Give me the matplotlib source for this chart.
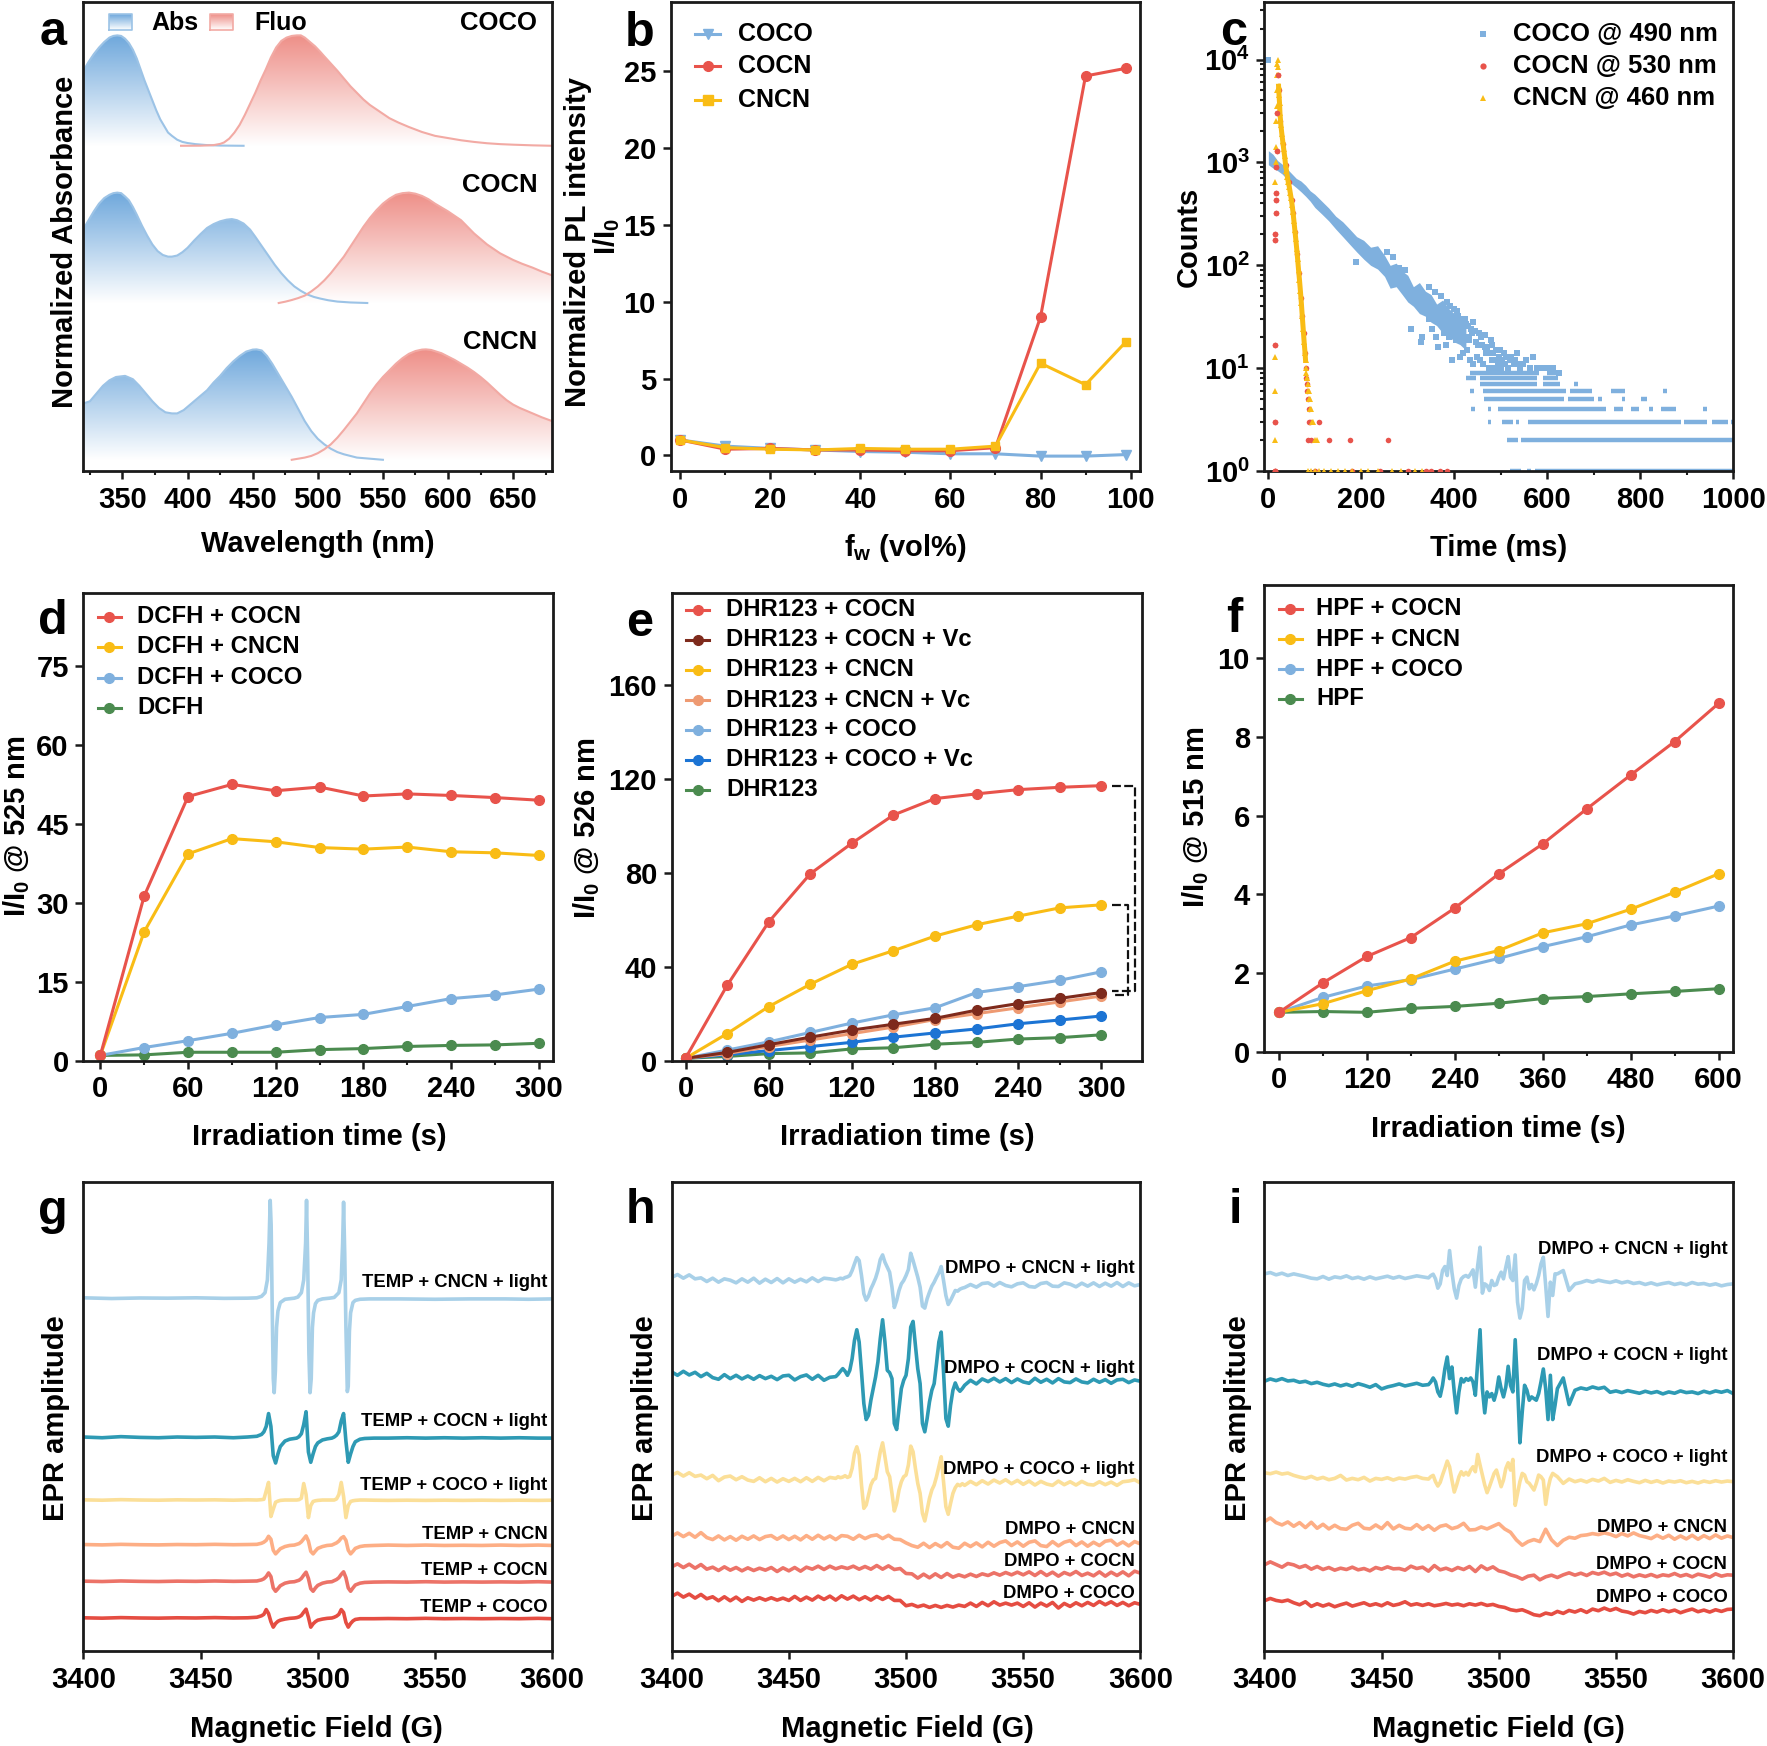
import numpy as np
import matplotlib
matplotlib.use('Agg')
import matplotlib.pyplot as plt
from matplotlib.colors import LinearSegmentedColormap
from matplotlib.patches import Polygon
from matplotlib.ticker import MultipleLocator, FixedLocator, FixedFormatter, NullFormatter, LogLocator

plt.rcParams['font.family'] = ['Liberation Sans', 'DejaVu Sans']
plt.rcParams['font.weight'] = 'bold'
plt.rcParams['axes.labelweight'] = 'bold'
plt.rcParams['mathtext.fontset'] = 'custom'
plt.rcParams['mathtext.rm'] = 'Liberation Sans:bold'
plt.rcParams['mathtext.bf'] = 'Liberation Sans:bold'
plt.rcParams['mathtext.default'] = 'rm'

# colours
c_red = '#E8534B'
c_yellow = '#F9BC15'
c_blue = '#7FB0DE'
c_green = '#4B8B4F'
c_brown = '#7E2A1C'
c_salmon = '#EE9A72'
c_dblue = '#1C74D4'
c_epr = ['#A8D0E8', '#2E9AB4', '#FBDF98', '#FDAE85', '#EC7368', '#E54D42']

# panel a, values are height over each baseline
abs_coco_x = [320, 324, 328, 332, 336, 340, 343, 346, 349, 352, 355, 358, 361, 364, 367, 370, 373, 376, 379, 382, 385, 388, 392, 396, 400, 406, 414, 425, 443]
abs_coco_y = [0.68, 0.76, 0.83, 0.89, 0.94, 0.98, 0.995, 1.0, 0.995, 0.97, 0.93, 0.87, 0.79, 0.69, 0.59, 0.5, 0.41, 0.32, 0.24, 0.18, 0.12, 0.09, 0.055, 0.035, 0.025, 0.015, 0.007, 0.002, 0.0]
flu_coco_x = [395, 410, 420, 425, 428, 432, 436, 440, 444, 448, 452, 456, 460, 464, 468, 472, 476, 480, 484, 487, 490, 494, 498, 502, 505, 510, 515, 520, 525, 530, 535, 540, 545, 550, 555, 562, 570, 580, 590, 600, 610, 620, 630, 640, 650, 665, 680]
flu_coco_y = [0.0, 0.001, 0.006, 0.017, 0.03, 0.065, 0.12, 0.19, 0.28, 0.38, 0.48, 0.59, 0.69, 0.8, 0.89, 0.95, 0.98, 0.995, 1.0, 1.0, 0.98, 0.94, 0.9, 0.85, 0.81, 0.745, 0.68, 0.61, 0.54, 0.48, 0.42, 0.37, 0.33, 0.29, 0.25, 0.21, 0.17, 0.125, 0.09, 0.07, 0.05, 0.035, 0.023, 0.015, 0.01, 0.004, 0.0]
abs_cocn_x = [320, 324, 328, 332, 336, 340, 343, 346, 349, 352, 355, 358, 361, 365, 369, 373, 377, 381, 385, 388, 392, 396, 400, 405, 410, 415, 420, 425, 430, 434, 438, 443, 448, 452, 457, 462, 467, 472, 477, 482, 487, 492, 497, 502, 508, 515, 525, 538]
abs_cocn_y = [0.67, 0.75, 0.83, 0.9, 0.95, 0.98, 0.995, 1.0, 0.995, 0.965, 0.93, 0.87, 0.8, 0.7, 0.61, 0.53, 0.47, 0.435, 0.42, 0.42, 0.43, 0.46, 0.5, 0.565, 0.625, 0.68, 0.715, 0.74, 0.755, 0.76, 0.75, 0.72, 0.665, 0.6, 0.515, 0.43, 0.345, 0.27, 0.205, 0.15, 0.11, 0.077, 0.055, 0.04, 0.025, 0.013, 0.005, 0.0]
flu_cocn_x = [470, 475, 480, 485, 490, 495, 500, 505, 510, 515, 520, 525, 530, 535, 540, 545, 550, 555, 560, 565, 570, 575, 580, 585, 590, 595, 600, 605, 610, 615, 620, 625, 630, 635, 640, 645, 650, 657, 665, 672, 680]
flu_cocn_y = [0.0, 0.012, 0.027, 0.045, 0.067, 0.105, 0.15, 0.205, 0.27, 0.345, 0.42, 0.51, 0.6, 0.69, 0.77, 0.84, 0.9, 0.945, 0.98, 0.995, 1.0, 0.99, 0.97, 0.94, 0.9, 0.865, 0.83, 0.79, 0.75, 0.69, 0.63, 0.58, 0.53, 0.49, 0.45, 0.42, 0.39, 0.355, 0.32, 0.285, 0.25]
abs_cncn_x = [320, 325, 330, 335, 340, 345, 352, 358, 363, 368, 373, 378, 383, 388, 392, 397, 402, 407, 412, 415, 420, 425, 430, 435, 440, 445, 450, 453, 457, 461, 465, 470, 475, 480, 485, 490, 495, 500, 505, 510, 515, 520, 530, 540, 550]
abs_cncn_y = [0.51, 0.53, 0.6, 0.67, 0.72, 0.75, 0.76, 0.73, 0.67, 0.6, 0.53, 0.47, 0.43, 0.42, 0.42, 0.45, 0.5, 0.55, 0.6, 0.63, 0.7, 0.76, 0.83, 0.89, 0.94, 0.98, 0.998, 1.0, 0.99, 0.94, 0.87, 0.77, 0.67, 0.57, 0.46, 0.35, 0.26, 0.19, 0.14, 0.1, 0.07, 0.05, 0.02, 0.01, 0.0]
flu_cncn_x = [480, 485, 490, 495, 500, 505, 510, 515, 520, 525, 530, 535, 540, 545, 550, 555, 560, 565, 570, 575, 580, 583, 587, 591, 595, 600, 605, 610, 615, 620, 625, 630, 635, 640, 645, 650, 655, 660, 665, 672, 680]
flu_cncn_y = [0.0, 0.01, 0.02, 0.035, 0.06, 0.095, 0.14, 0.2, 0.27, 0.345, 0.42, 0.51, 0.6, 0.68, 0.75, 0.81, 0.87, 0.92, 0.96, 0.985, 0.998, 1.0, 0.995, 0.98, 0.965, 0.935, 0.905, 0.87, 0.835, 0.795, 0.75, 0.7, 0.645, 0.59, 0.54, 0.5, 0.47, 0.445, 0.42, 0.385, 0.35]
a_base = [2.947, 1.523, 0.103]

# panel b
fw = [0, 10, 20, 30, 40, 50, 60, 70, 80, 90, 99]
b_coco = [1, 0.6, 0.45, 0.35, 0.25, 0.2, 0.1, 0.1, -0.05, -0.05, 0.05]
b_cocn = [1, 0.4, 0.45, 0.35, 0.35, 0.3, 0.3, 0.5, 9, 24.7, 25.2]
b_cncn = [1, 0.5, 0.4, 0.35, 0.45, 0.4, 0.4, 0.6, 6, 4.6, 7.4]

# panel c
coco_band_t = [0, 10, 20, 30, 40, 50, 60, 70, 80, 90, 100, 115, 130, 145, 160, 175, 190, 205, 220, 235, 250, 262, 275, 288, 300, 312, 325, 338, 350, 362, 375, 388, 400, 412, 425]
coco_band_up = [1300, 1200, 1040, 960, 870, 780, 700, 660, 600, 530, 490, 420, 360, 300, 265, 225, 190, 175, 150, 155, 125, 100, 105, 88, 80, 62, 68, 56, 52, 42, 46, 38, 34, 33, 28]
coco_band_lo = [950, 880, 830, 770, 690, 620, 570, 520, 470, 420, 365, 315, 270, 225, 190, 160, 135, 115, 100, 92, 78, 60, 62, 52, 44, 40, 34, 32, 28, 26, 22, 21, 18, 17, 15]
coco_t = [0, 189, 255, 268, 281, 295, 307, 328, 330, 345, 352, 358, 362, 366, 371, 378, 384, 388, 391, 396, 397, 403, 406, 409, 415, 418, 421, 425, 428, 431, 434, 438, 440,
          430, 436, 441, 446, 449, 453, 456, 459, 462, 465, 468, 471, 475, 478, 481, 484, 487, 490, 493, 496, 500, 503, 507, 509, 515, 522, 528, 535, 541, 548, 555, 562, 570, 578, 590, 600, 612, 625,
          400, 408, 416, 424, 432, 444, 450, 458, 466, 474, 482, 492, 498, 505, 512, 520, 530, 540, 345, 360, 372, 382, 395, 412]
coco_c = [10000, 107, 135, 120, 95, 90, 24, 18, 20, 62, 24, 55, 30, 16, 50, 22, 44, 20, 40, 12, 24, 19, 36, 22, 25, 14, 30, 27, 15, 20, 12, 22, 11,
          26, 24, 28, 18, 13, 22, 12, 17, 11, 21, 14, 16, 10, 19, 12, 14, 10, 15, 11, 13, 10, 12, 14, 11, 10, 13, 11, 14, 10, 11, 12, 10, 13, 10, 10, 10, 10, 9,
          38, 32, 24, 30, 19, 23, 17, 20, 16, 14, 17, 12, 15, 11, 13, 12, 12, 11, 30, 20, 28, 17, 22, 13]
coco_levels = [9, 8, 7, 6, 5, 4, 3, 2, 1]
coco_runs = [
    [(434, 582), (600, 628)],
    [(425, 447), (455, 578), (590, 624)],
    [(455, 578), (590, 628), (658, 666)],
    [(434, 442), (462, 641), (648, 696), (738, 768), (849, 857)],
    [(464, 637), (645, 700), (709, 717), (760, 768), (802, 815)],
    [(436, 444), (472, 480), (493, 726), (743, 764), (781, 798), (819, 827), (844, 878), (936, 944)],
    [(472, 480), (502, 527), (532, 540), (558, 887), (895, 944), (955, 988), (996, 1000)],
    [(513, 538), (544, 1000)],
    [(519, 544), (557, 565), (574, 1000)],
]
cocn_t = [15, 15, 15, 15, 15, 16, 16, 17, 17, 18, 19, 20, 22, 26, 32, 38, 44, 50, 54, 58, 62, 66, 70, 73, 76, 78, 80, 82, 84, 84, 86, 88, 90, 88, 108, 86, 92, 130, 175, 258, 15, 100, 180, 240, 300, 340, 350, 370, 385]
cocn_c = [1, 3, 17, 175, 200, 320, 430, 510, 900, 1300, 3000, 7000, 5000, 2500, 1500, 950, 650, 430, 320, 210, 130, 85, 48, 32, 22, 14, 10, 8, 7, 6, 5, 4, 3, 3, 3, 2, 2, 2, 2, 2, 1, 1, 1, 1, 1, 1, 1, 1, 1]
cncn_t = [14, 14, 15, 15, 16, 16, 17, 18, 18, 19, 19, 20, 20, 21, 22, 23, 24, 25, 27, 29, 31, 33, 35, 37, 39, 41, 43, 45, 47, 49, 51, 53, 55, 57, 59, 61, 63, 65, 67, 69, 71, 73, 75, 77, 79, 80, 81, 82, 83, 84, 85, 86, 87, 88, 89, 90, 92, 94, 97, 100, 105,
          85, 92, 100, 110, 120, 135, 150, 165, 180, 200, 215, 235, 265, 285, 315, 330]
cncn_c = [2, 6, 13, 650, 1000, 1400, 2500, 3500, 5000, 7000, 9000, 10000, 8500, 7000, 5500, 4500, 3800, 3000, 2300, 1900, 1600, 1350, 1150, 950, 830, 720, 640, 580, 510, 450, 390, 330, 270, 220, 180, 145, 115, 90, 72, 56, 43, 32, 24, 18, 14, 12, 10, 9, 8, 8, 7, 6, 6, 5, 5, 4, 4, 3, 3, 2, 2,
          1, 1, 1, 1, 1, 1, 1, 1, 1, 1, 1, 1, 1, 1, 1, 1]

# panel d
t_300 = [0, 30, 60, 90, 120, 150, 180, 210, 240, 270, 300]
d_cocn = [1, 31.3, 50.2, 52.5, 51.3, 52, 50.3, 50.7, 50.4, 50, 49.5]
d_cncn = [1, 24.5, 39.3, 42.2, 41.6, 40.5, 40.2, 40.6, 39.7, 39.5, 39]
d_coco = [1, 2.5, 3.8, 5.2, 6.8, 8.2, 8.8, 10.3, 11.8, 12.5, 13.6]
d_dcfh = [1, 1.1, 1.6, 1.6, 1.6, 2.1, 2.3, 2.7, 2.9, 3, 3.3]

# panel e
e_cocn = [1, 32, 59, 79.5, 92.5, 104.5, 111.5, 113.5, 115.3, 116.3, 117]
e_cocn_vc = [1, 3.5, 6.8, 10, 13, 15.5, 18, 21.5, 24.3, 26.5, 29]
e_cncn = [1, 11.5, 23, 32.5, 41, 46.8, 53, 57.8, 61.5, 65, 66.3]
e_cncn_vc = [1, 3, 6, 8.8, 11.5, 14.3, 17.5, 20, 22.5, 25, 27.5]
e_coco = [1, 4.5, 8, 12, 16, 19.5, 22.5, 29, 31.5, 34.2, 37.8]
e_coco_vc = [1, 2.5, 4.3, 6, 7.8, 10, 11.8, 13.5, 15.7, 17.3, 19]
e_dhr = [1, 1.8, 3, 3.3, 5, 5.5, 7, 7.8, 9.2, 9.8, 11]

# panel f
t_600 = [0, 60, 120, 180, 240, 300, 360, 420, 480, 540, 600]
f_cocn = [1, 1.75, 2.42, 2.9, 3.65, 4.52, 5.28, 6.17, 7.03, 7.88, 8.85]
f_cncn = [1, 1.22, 1.55, 1.85, 2.3, 2.57, 3.02, 3.25, 3.62, 4.05, 4.52]
f_coco = [1, 1.38, 1.67, 1.83, 2.1, 2.37, 2.67, 2.92, 3.22, 3.45, 3.7]
f_hpf = [1, 1.02, 1, 1.1, 1.15, 1.23, 1.35, 1.4, 1.47, 1.53, 1.6]

# panel g, deviations from each baseline
g_base = [96.4, 58.4, 41.3, 29.1, 19.1, 9.1]
g_names = ['TEMP + CNCN + light', 'TEMP + COCN + light', 'TEMP + COCO + light', 'TEMP + CNCN', 'TEMP + COCN', 'TEMP + COCO']
g_label_y = [100.6, 62.6, 45.2, 31.8, 22.1, 12.0]
g_first_x = [3400, 3412, 3424, 3436, 3448, 3460, 3470, 3474, 3476, 3477.5, 3478.5, 3479.2, 3479.7, 3480.1, 3480.5, 3481, 3481.4, 3481.9, 3482.4, 3483, 3484, 3486, 3490,
             3491.5, 3493, 3494, 3494.8, 3495.2, 3495.7, 3496.2, 3496.7, 3497.2, 3497.7, 3498.2, 3499, 3500, 3502, 3505,
             3507, 3509, 3510, 3510.6, 3511, 3511.5, 3512, 3512.6, 3513, 3513.5, 3514, 3515, 3516, 3518, 3522, 3535, 3550, 3565, 3580, 3590, 3600]
g_first_y = [0.1, -0.1, 0.05, 0, 0.1, -0.05, 0, 0.1, 0.5, 1.5, 5, 15, 26.7, 20, 0, -22, -25.8, -20, -8, -3.5, -1.2, -0.3, 0,
             0.3, 1.5, 5, 15, 26.7, 10, -15, -25.8, -22, -8, -4, -1.5, -0.6, -0.2, 0,
             0.2, 1.5, 5, 15, 26.2, 12, -8, -25.5, -24, -9, -4, -1.2, -0.6, -0.3, -0.2, -0.2, -0.3, -0.2, -0.2, -0.3, -0.2]
g_x = [3400, 3408, 3416, 3424, 3432, 3440, 3448, 3456, 3464, 3470,
       3474, 3476, 3477, 3478, 3479, 3480, 3481, 3482, 3483, 3484, 3486, 3488,
       3490, 3491, 3492, 3493, 3494, 3495, 3496, 3497, 3498, 3499, 3500, 3502, 3504,
       3506, 3507, 3508, 3509, 3510, 3511, 3512, 3513, 3514, 3515, 3516, 3518, 3520,
       3524, 3530, 3538, 3546, 3554, 3562, 3570, 3578, 3586, 3594, 3600]
g_cocn_y = [0.1, -0.1, 0.2, 0, -0.1, 0.1, 0, 0.1, -0.1, 0.1,
            0.3, 0.8, 1.5, 3, 6.5, 3, -5, -7, -4.5, -2.5, -1, -0.5,
            -0.3, -0.2, 0.2, 1, 3.5, 7, -4, -6.8, -4.5, -2.5, -1.5, -0.7, -0.4,
            -0.2, 0.1, 0.6, 1.5, 4.5, 6.5, -1, -6.8, -4.5, -2.5, -1.2, -0.5, -0.3,
            -0.2, -0.2, -0.1, -0.2, -0.1, -0.2, -0.1, -0.2, -0.1, -0.2, -0.2]
g_coco_y = [0.05, -0.05, 0.1, 0, -0.05, 0.05, 0, 0.05, -0.05, 0.05,
            0, 0.1, 0.2, 2.5, 4.8, -4.5, -2.5, -0.6, -0.3, -0.1, 0, 0,
            0, 0, 0.1, 0.5, 4.5, 1.5, -4.8, -1.5, -0.4, -0.2, -0.1, 0, 0,
            0, 0, 0.3, 1.5, 4.8, 1, -4.8, -1.5, -0.4, -0.2, -0.1, 0, 0,
            -0.05, -0.1, -0.05, -0.1, -0.05, -0.1, -0.05, -0.1, -0.05, -0.1, -0.05]
g_cncn_y = [0.05, -0.05, 0.1, 0, -0.05, 0.05, 0, 0.1, 0, 0.05,
            0.1, 0.4, 0.7, 1.2, 2.3, 1.5, -1.5, -2.5, -1.8, -1.1, -0.5, -0.2,
            -0.1, 0.1, 0.3, 0.8, 1.6, 2.4, 1, -1.8, -2.5, -1.7, -1, -0.5, -0.2,
            -0.1, 0.2, 0.5, 1, 1.8, 2.2, 1.2, -1.5, -2.5, -1.8, -1, -0.5, -0.3,
            -0.2, -0.1, -0.2, -0.1, -0.2, -0.15, -0.2, -0.1, -0.2, -0.1, -0.2]
g_cocn2_y = [0.05, -0.05, 0.1, 0, -0.05, 0.05, 0, 0.1, 0, 0.05,
             0.1, 0.4, 0.7, 1.3, 2.3, 1.3, -1.8, -2.7, -2, -1.2, -0.5, -0.2,
             -0.1, 0.1, 0.3, 0.8, 1.7, 2.5, 0.8, -2, -2.7, -1.8, -1.1, -0.5, -0.2,
             -0.1, 0.2, 0.5, 1, 1.9, 2.6, 1, -1.8, -2.7, -1.8, -1, -0.5, -0.3,
             -0.2, -0.15, -0.2, -0.1, -0.2, -0.15, -0.2, -0.15, -0.2, -0.1, -0.2]
g_coco2_y = [0.05, -0.05, 0.1, 0, -0.05, 0.05, 0, 0.1, 0, 0.05,
             0.2, 0.6, 1, 2.3, 1.2, -1, -2.5, -1.5, -0.9, -0.6, -0.3, -0.1,
             0, 0.1, 0.3, 0.7, 1.6, 2.4, 0.2, -2.5, -1.6, -1, -0.6, -0.3, -0.1,
             0, 0.2, 0.5, 1, 2.3, 1.5, -1.2, -2.5, -1.5, -0.8, -0.4, -0.2, -0.2,
             -0.2, -0.15, -0.2, -0.1, -0.2, -0.15, -0.2, -0.15, -0.2, -0.1, -0.2]

# panel h, light traces: 3400-3467.5 every 2.5 G, 3470-3524 every 1 G, 3525-3600 every 2.5 G
h_names = ['DMPO + CNCN + light', 'DMPO + COCN + light', 'DMPO + COCO + light', 'DMPO + CNCN', 'DMPO + COCN', 'DMPO + COCO']
h_label_y = [115.1, 84.9, 54.7, 36.7, 26.9, 17.4]
h_a_left = [112.4, 113.3, 112.2, 113.2, 112.0, 112.3, 111.2, 112.2, 111.0, 112.0, 111.6, 110.8, 112.0, 111.0, 112.2, 110.7, 111.9, 110.9, 112.1, 110.8, 112.0, 111.0, 111.9, 111.1, 112.3, 111.2, 112.2, 112.0]
h_a_mid = [111.7, 111.9, 112.2, 112.0, 112.4,
           112.6, 113.0, 114.5, 116.5, 118.4,
           117.5, 113.0, 107.5, 105.6, 106.8,
           109.0, 110.5, 112.2, 114.5, 117.8,
           119.2, 117.0, 115.5, 114.0, 109.5,
           103.4, 105.5, 108.5, 110.5, 111.5,
           113.0, 114.8, 119.7, 117.5, 115.0,
           112.5, 109.5, 103.8, 103.2, 106.0,
           108.0, 109.8, 111.0, 112.5, 113.8,
           115.7, 111.5, 107.0, 104.3, 105.5,
           107.0, 108.5, 108.3, 108.9, 109.2]
h_a_right = [109.4, 110.3, 109.5, 110.6, 110.8, 109.8, 110.9, 110.0, 109.6, 110.5, 110.8, 109.7, 109.5, 110.6, 110.9, 109.8, 109.7, 110.8, 110.4, 109.6, 110.7, 109.8, 110.8, 109.7, 110.7, 109.8, 110.9, 109.7, 110.8, 109.9, 110.3]
h_b_left = [84.0, 83.0, 84.2, 83.1, 83.9, 82.6, 83.6, 82.3, 81.8, 83.2, 82.0, 83.0, 81.9, 82.8, 81.8, 82.9, 82.0, 82.7, 81.7, 82.8, 83.0, 81.6, 82.6, 83.1, 81.8, 83.0, 81.5, 82.4]
h_b_mid = [82.6, 83.3, 84.2, 85.0, 84.2,
           83.0, 84.5, 88.0, 93.5, 96.7,
           93.0, 84.0, 74.5, 69.7, 71.0,
           75.5, 79.0, 82.5, 87.0, 94.0,
           99.7, 93.0, 84.5, 83.8, 82.0,
           68.5, 66.7, 73.0, 79.0, 81.5,
           83.0, 88.0, 97.5, 99.2, 92.0,
           85.0, 80.5, 68.5, 66.0, 70.0,
           75.0, 78.5, 80.5, 86.5, 93.0,
           96.0, 84.0, 70.0, 67.7, 74.0,
           78.5, 80.7, 79.0, 78.2, 79.0]
h_b_right = [80.0, 81.5, 80.4, 81.9, 81.1, 82.1, 81.0, 82.0, 80.8, 81.9, 81.0, 80.6, 82.1, 80.9, 81.8, 80.7, 82.0, 81.0, 80.8, 81.9, 81.0, 80.7, 81.8, 80.9, 81.7, 80.6, 81.6, 81.8, 80.8, 81.6, 81.2]
h_c_left = [53.0, 53.8, 52.7, 53.7, 52.6, 53.0, 51.9, 52.9, 51.3, 52.4, 52.7, 51.6, 52.5, 51.5, 51.1, 52.2, 51.0, 52.0, 50.9, 51.9, 51.1, 52.0, 51.0, 52.2, 51.1, 52.3, 51.3, 52.3]
h_c_mid = [52.0, 52.5, 52.2, 52.4, 52.8,
           52.3, 52.6, 55.0, 59.5, 61.5,
           59.0, 50.0, 43.0, 44.0, 47.0,
           50.0, 51.5, 52.0, 56.0, 60.0,
           62.7, 58.5, 54.0, 52.5, 47.5,
           42.2, 44.5, 48.5, 51.0, 52.5,
           53.0, 56.0, 61.7, 60.0, 55.0,
           50.5, 47.5, 41.5, 39.2, 42.5,
           46.0, 48.5, 50.0, 52.5, 55.5,
           58.5, 51.0, 43.5, 41.2, 44.5,
           47.5, 49.2, 50.2, 49.8, 50.4]
h_c_right = [49.9, 51.1, 50.1, 51.3, 50.3, 51.5, 50.6, 51.6, 50.4, 51.4, 50.2, 51.2, 50.0, 51.1, 50.3, 49.9, 51.2, 50.1, 51.0, 50.0, 51.1, 50.2, 50.0, 51.0, 50.1, 50.9, 49.9, 51.0, 51.2, 51.6, 50.6]
h_d = [34.6, 35.6, 34.5, 35.5, 34.3, 35.7, 34.2, 33.6, 34.7, 33.5, 34.5, 33.4, 34.6, 33.7, 34.7, 33.6, 34.5, 34.8, 33.7, 34.7, 33.6, 34.6, 33.5, 34.8, 33.7, 34.9, 33.8, 34.7, 33.6, 34.8,
       34.6, 33.7, 34.9, 33.9, 34.7, 35.0, 33.9, 34.9, 33.7, 33.6, 32.6, 31.8, 31.3, 32.5, 31.2, 32.4, 31.4, 32.7, 31.3, 31.0, 32.5, 31.5, 32.6, 31.4, 32.8, 31.6, 32.7, 33.2, 31.8, 32.9,
       31.6, 32.8, 33.2, 31.8, 31.5, 33.0, 31.7, 32.8, 33.3, 31.8, 32.9, 31.6, 32.8, 31.8, 33.1, 33.4, 31.9, 32.9, 31.7, 33.0, 32.3]
h_e = [25.4, 26.3, 25.2, 26.2, 25.0, 26.1, 24.7, 25.3, 24.3, 25.4, 24.4, 25.2, 24.2, 25.1, 24.3, 25.0, 24.4, 25.2, 24.0, 25.1, 24.2, 25.2, 24.1, 25.3, 24.7, 25.6, 24.6, 25.6, 24.8, 25.4,
       24.9, 25.6, 24.7, 25.5, 24.7, 25.8, 24.7, 25.7, 24.6, 24.9, 23.4, 23.3, 22.0, 23.2, 22.1, 23.3, 22.2, 23.4, 22.3, 23.0, 22.4, 23.2, 22.5, 23.3, 22.8, 23.6, 22.9, 23.7, 23.0, 23.8,
       23.0, 23.9, 22.8, 24.0, 22.8, 23.8, 22.6, 23.7, 23.0, 24.0, 22.8, 23.5, 22.7, 23.9, 22.6, 23.8, 22.8, 23.9, 22.7, 24.1, 23.5]
h_f = [16.5, 17.5, 16.3, 17.2, 16.0, 17.1, 15.8, 16.4, 15.2, 16.4, 15.2, 16.3, 15.0, 16.1, 15.4, 16.1, 15.4, 16.1, 15.4, 16.0, 15.3, 16.5, 15.3, 16.3, 15.4, 16.6, 15.6, 16.6, 15.4, 16.7,
       15.7, 16.6, 15.5, 16.4, 15.4, 16.5, 15.6, 16.5, 15.3, 15.3, 13.7, 14.1, 13.4, 13.9, 13.2, 13.8, 13.2, 13.8, 13.3, 13.9, 13.5, 14.5, 13.5, 14.7, 13.7, 14.9, 13.9, 14.5, 13.9, 14.5,
       13.5, 14.6, 13.3, 14.5, 13.6, 14.7, 13.0, 14.4, 13.5, 14.6, 13.7, 14.7, 13.8, 15.0, 14.0, 14.9, 13.8, 14.7, 13.7, 14.6, 14.1]

# panel i
i_label_y = [120.9, 89.1, 58.2, 37.2, 26.1, 16.1]
i_a_left = [113.5, 113.9, 113.2, 113.7, 113.0, 113.5, 113.1, 112.7, 112.2, 112.0, 112.7, 111.9, 112.6, 112.3, 112.9, 112.1, 112.5, 111.9, 112.6, 112.0, 112.4, 112.8, 112.2, 112.7, 112.1, 112.5, 112.9, 112.6]
i_a_mid = [112.3, 113.0, 113.4, 112.0, 109.2,
           110.5, 114.5, 115.7, 113.0, 120.5,
           114.0, 109.0, 106.2, 110.0, 112.0,
           112.7, 113.0, 112.5, 113.5, 114.7,
           109.5, 116.0, 121.5, 107.7, 110.5,
           110.0, 108.5, 111.5, 110.0, 110.3,
           112.5, 114.0, 112.0, 115.5, 118.7,
           112.5, 111.5, 119.2, 105.0, 100.2,
           103.0, 111.5, 112.5, 109.0, 110.3,
           108.7, 110.5, 113.0, 116.5, 118.5,
           110.0, 100.7, 111.0, 107.0, 113.5]
i_a_right = [113.5, 114.5, 108.5, 110.5, 110.9, 111.5, 111.0, 111.6, 111.2, 110.9, 111.4, 110.8, 111.2, 110.6, 110.9, 110.3, 110.8, 110.2, 110.6, 110.9, 110.3, 110.7, 110.2, 110.9, 110.4, 110.6, 110.1, 110.5, 109.9, 110.3, 110.5]
i_b_left = [81.2, 81.9, 81.4, 82.0, 81.3, 81.5, 80.9, 81.2, 80.5, 80.9, 80.3, 79.9, 80.4, 79.8, 80.3, 79.7, 80.5, 80.0, 79.4, 80.2, 78.9, 79.5, 79.9, 80.4, 79.8, 80.2, 80.6, 80.0]
i_b_mid = [80.2, 81.0, 82.2, 81.0, 78.0,
           76.7, 80.0, 85.0, 88.5, 82.0,
           85.5, 78.0, 71.7, 78.0, 82.0,
           81.0, 82.0, 81.5, 82.2, 81.0,
           77.0, 87.0, 96.7, 79.0, 71.7,
           78.0, 76.5, 77.5, 75.5, 78.0,
           82.5, 79.0, 76.5, 79.5, 85.7,
           80.0, 78.0, 93.7, 80.0, 62.7,
           72.0, 80.0, 78.5, 75.5, 76.5,
           76.0, 75.5, 77.5, 81.0, 84.9,
           79.0, 69.7, 83.0, 69.7, 74.0]
i_b_right = [79.0, 82.2, 74.2, 78.5, 79.2, 78.8, 79.5, 79.0, 79.4, 77.9, 78.3, 77.8, 78.4, 78.0, 77.6, 78.2, 77.7, 78.1, 77.4, 78.0, 77.6, 78.3, 77.8, 78.0, 77.5, 78.2, 77.7, 78.3, 77.9, 78.4, 77.5]
i_c_left = [53.7, 53.4, 53.9, 53.3, 53.6, 52.9, 52.4, 52.0, 52.6, 51.8, 52.3, 51.6, 52.0, 52.9, 51.5, 52.0, 51.6, 52.3, 51.2, 52.0, 51.7, 52.2, 51.5, 52.1, 51.8, 52.3, 52.6, 52.0]
i_c_mid = [51.8, 52.5, 52.9, 51.0, 49.7,
           50.8, 53.0, 55.0, 57.2, 55.5,
           51.5, 47.9, 50.0, 52.5, 54.0,
           53.0, 53.8, 53.0, 54.5, 55.5,
           54.0, 59.2, 56.0, 53.0, 50.0,
           47.7, 49.5, 51.5, 53.5, 54.5,
           52.0, 49.5, 51.5, 55.0, 56.7,
           54.5, 57.7, 43.9, 47.5, 51.0,
           53.5, 53.0, 51.0, 50.5, 49.5,
           48.5, 50.5, 53.0, 52.5, 51.5,
           44.2, 49.0, 52.0, 53.5, 53.0]
i_c_right = [52.5, 50.5, 51.8, 51.0, 51.5, 50.9, 51.7, 51.2, 52.0, 50.8, 51.4, 50.9, 51.6, 51.1, 50.7, 51.4, 50.8, 51.3, 50.6, 51.2, 50.9, 51.3, 50.7, 51.1, 50.6, 51.2, 50.8, 51.3, 50.9, 51.2, 51.0]
i_d = [39.0, 40.1, 38.7, 38.0, 38.9, 37.6, 38.7, 37.2, 38.8, 37.0, 38.2, 36.8, 37.9, 36.9, 36.7, 37.9, 38.5, 37.0, 36.8, 38.0, 36.9, 38.7, 36.8, 37.9, 37.0, 36.8, 38.1, 36.7, 37.8, 36.4,
       37.6, 38.0, 36.9, 37.4, 38.5, 36.5, 36.6, 37.4, 36.8, 37.6, 38.4, 36.8, 35.8, 33.5, 31.9, 33.0, 33.6, 33.0, 36.7, 33.5, 31.8, 33.4, 34.3, 34.0, 34.8, 35.0, 35.4, 35.1, 35.6, 35.2,
       34.5, 35.4, 34.7, 35.6, 34.8, 34.4, 33.9, 34.9, 34.0, 34.9, 33.7, 34.7, 33.8, 34.9, 33.7, 34.8, 33.9, 35.0, 34.0, 34.7, 34.2]
i_e = [26.0, 26.9, 26.1, 25.3, 26.4, 26.0, 25.2, 25.8, 24.7, 25.5, 24.6, 25.2, 24.4, 25.0, 24.6, 25.3, 24.5, 24.9, 24.2, 25.2, 24.7, 25.4, 24.8, 24.9, 24.4, 25.6, 24.9, 25.3, 24.1, 25.8,
       24.5, 25.0, 24.3, 25.2, 24.6, 25.5, 24.0, 25.7, 24.6, 25.4, 24.2, 23.8, 23.0, 22.5, 21.7, 22.6, 22.9, 21.5, 22.4, 22.9, 22.2, 23.0, 23.6, 22.9, 23.5, 22.8, 23.7, 23.2, 23.8, 23.0,
       23.5, 22.6, 23.2, 22.4, 23.0, 22.5, 23.1, 22.4, 23.0, 22.7, 23.4, 22.6, 23.1, 22.4, 23.2, 22.8, 22.3, 23.3, 22.6, 23.0, 22.9]
i_f = [15.2, 15.9, 15.3, 15.0, 15.4, 14.6, 14.0, 14.9, 13.5, 14.3, 13.6, 14.2, 13.4, 14.0, 14.5, 13.6, 14.1, 14.6, 13.8, 14.3, 13.7, 14.6, 13.8, 14.2, 14.9, 13.9, 14.3, 13.8, 14.3, 13.7,
       14.0, 14.4, 13.9, 14.2, 13.7, 14.3, 13.9, 14.4, 13.8, 14.1, 13.5, 13.2, 12.5, 12.2, 12.5, 11.8, 11.0, 10.7, 11.5, 11.1, 12.0, 11.4, 12.3, 11.8, 12.5, 11.7, 12.7, 12.2, 13.0, 12.3,
       12.9, 12.1, 11.8, 11.2, 12.0, 11.6, 12.3, 11.8, 12.5, 11.9, 12.4, 11.6, 12.2, 12.7, 11.9, 12.4, 11.8, 12.5, 12.0, 12.6, 12.7]

W, H = 1767, 1746
SX, SY = W / 1568, H / 1549  # pixel readings were taken at 1568 wide
fig = plt.figure(figsize=(W / 100, H / 100), dpi=100)
TICK = 21
LABEL = 21
LEG = 17.2
EPR_LW = 2.6
LINE_LW = 2.2
MS = 7


def add_panel(left, top, right, bottom, letter, lx, ly):
    ax = fig.add_axes([left * SX / W, 1 - bottom * SY / H, (right - left) * SX / W, (bottom - top) * SY / H])
    for s in ax.spines.values():
        s.set_linewidth(2)
        s.set_color('#1a1a1a')
    ax.tick_params(which='major', length=5.5, width=1.8, labelsize=TICK, color='#1a1a1a', pad=5)
    ax.tick_params(which='minor', length=3, width=1.5, color='#1a1a1a')
    fig.text(lx * SX / W, 1 - ly * SY / H, letter, fontsize=35, fontweight='bold', ha='center', va='center')
    ax.box = (left, top, right, bottom)
    return ax


def labels(ax, xlabel, xc, yc_x, ylabel, yl_x, yl_y):
    left, top, right, bottom = ax.box
    ax.set_xlabel(xlabel, fontsize=LABEL)
    ax.xaxis.set_label_coords((xc - left) / (right - left), (bottom - yc_x) / (bottom - top))
    ax.xaxis.label.set_va('center')
    if ylabel:
        ax.set_ylabel(ylabel, fontsize=LABEL)
        ax.yaxis.set_label_coords((yl_x - left) / (right - left), (bottom - yl_y) / (bottom - top))
        ax.yaxis.label.set_va('center')


def legend(ax, names, colors, markers, x0, x1, xt, ys, size=LEG):
    for name, col, m, y in zip(names, colors, markers, ys):
        ax.plot([x0, x1], [y, y], color=col, lw=LINE_LW, transform=ax.transAxes, clip_on=False)
        ax.plot([(x0 + x1) / 2], [y], m, color=col, ms=MS, transform=ax.transAxes, clip_on=False)
        ax.text(xt, y, name, transform=ax.transAxes, fontsize=size, va='center')


def grad_fill(ax, x, y, base, col, line):
    cmap = LinearSegmentedColormap.from_list('g', ['#FFFFFF', col])
    x = np.array(x, float)
    yy = np.array(y, float) + base
    pts = np.vstack([np.c_[x, yy], [x[-1], base], [x[0], base]])
    poly = Polygon(pts, closed=True, fc='none', ec='none')
    ax.add_patch(poly)
    im = ax.imshow(np.linspace(1, 0, 256).reshape(-1, 1), extent=[x.min(), x.max(), base, base + 1],
                   aspect='auto', cmap=cmap, vmin=0, vmax=1, origin='upper', zorder=1)
    im.set_clip_path(poly)
    ax.plot(x, yy, color=line, lw=1.5, zorder=2)


def epr_field(left, mid, right):
    return np.concatenate([np.linspace(3400, 3470, len(left), endpoint=False),
                           np.linspace(3470, 3525, len(mid), endpoint=False),
                           np.linspace(3525, 3600, len(right))])


def epr_axis(ax, ymax):
    ax.set_xlim(3400, 3600)
    ax.set_ylim(0, ymax)
    ax.set_yticks([])
    ax.xaxis.set_major_locator(MultipleLocator(50))


# a
ax = add_panel(74, 2, 490, 418, 'a', 47, 29)
col_b, line_b, col_r, line_r = '#6FA8DC', '#9CC3E6', '#EE8F88', '#F2AAA4'
for base, ax_x, ax_y, fl_x, fl_y in zip(a_base, [abs_coco_x, abs_cocn_x, abs_cncn_x], [abs_coco_y, abs_cocn_y, abs_cncn_y],
                                        [flu_coco_x, flu_cocn_x, flu_cncn_x], [flu_coco_y, flu_cocn_y, flu_cncn_y]):
    grad_fill(ax, ax_x, ax_y, base, col_b, line_b)
    grad_fill(ax, fl_x, fl_y, base, col_r, line_r)
for x0, x1, col, line, name, xt in [(340, 357.5, col_b, line_b, 'Abs', 372.5), (417.6, 435, col_r, line_r, 'Fluo', 451.5)]:
    cmap = LinearSegmentedColormap.from_list('l', ['#FFFFFF', col])
    ax.imshow(np.linspace(1, 0, 64).reshape(-1, 1), extent=[x0, x1, 4.0, 4.137], aspect='auto', cmap=cmap, vmin=0, vmax=1, zorder=1)
    ax.plot([x0, x1, x1, x0, x0], [4.0, 4.0, 4.137, 4.137, 4.0], color=line, lw=1.2, zorder=2)
    ax.text(xt, 4.055, name, fontsize=18, va='center')
for name, y in zip(['COCO', 'COCN', 'CNCN'], [4.055, 2.592, 1.168]):
    ax.text(668.5, y, name, fontsize=18.5, ha='right', va='center')
ax.set_xlim(320, 680)
ax.set_ylim(0, 4.247)
ax.set_yticks([])
ax.xaxis.set_major_locator(MultipleLocator(50))
ax.xaxis.set_minor_locator(MultipleLocator(25))
labels(ax, 'Wavelength (nm)', 282, 483, 'Normalized Absorbance', 58, 215)

# b
ax = add_panel(595, 2, 1012, 418, 'b', 568, 30)
ax.plot(fw, b_coco, '-v', color=c_blue, lw=LINE_LW, ms=MS)
ax.plot(fw, b_cocn, '-o', color=c_red, lw=LINE_LW, ms=MS)
ax.plot(fw, b_cncn, '-s', color=c_yellow, lw=LINE_LW, ms=6.3)
ax.set_xlim(-2.2, 102.2)
ax.set_ylim(-1.03, 29.5)
ax.xaxis.set_major_locator(MultipleLocator(20))
ax.xaxis.set_minor_locator(MultipleLocator(10))
ax.yaxis.set_major_locator(MultipleLocator(5))
legend(ax, ['COCO', 'COCN', 'CNCN'], [c_blue, c_red, c_yellow], ['v', 'o', 's'], 0.053, 0.106, 0.143, [0.933, 0.863, 0.792], size=18)
labels(ax, r'f$_{\mathregular{w}}$ (vol%)', 803, 486, 'Normalized PL intensity', 513, 215)
fig.text(538 * SX / W, 1 - 210 * SY / H, r'I/I$_{0}$', fontsize=LABEL, rotation=90, ha='center', va='center')

# c
ax = add_panel(1122, 2, 1538, 418, 'c', 1095, 29)
ax.set_yscale('log')
ax.fill_between(coco_band_t, coco_band_lo, coco_band_up, color=c_blue, lw=0, zorder=2)
ax.plot(coco_t, coco_c, 's', color=c_blue, ms=3.8, mew=0, zorder=2)
for level, runs in zip(coco_levels, coco_runs):
    for r in runs:
        ax.plot(r, [level, level], color=c_blue, lw=3.2, solid_capstyle='butt', zorder=2)
ax.plot(cocn_t, cocn_c, 'o', color=c_red, ms=4, mew=0, zorder=3)
ax.plot(cncn_t, cncn_c, '^', color=c_yellow, ms=5, mew=0, zorder=4)
ax.plot(cncn_t[14:46], cncn_c[14:46], '-', color=c_yellow, lw=3.6, zorder=4)
ax.plot(cocn_t[:12], cocn_c[:12], 'o', color=c_red, ms=4, mew=0, zorder=5)
ax.set_xlim(-8.5, 1000)
ax.set_ylim(1, 36000)
ax.xaxis.set_major_locator(MultipleLocator(200))
ax.xaxis.set_minor_locator(MultipleLocator(100))
ax.yaxis.set_major_locator(FixedLocator([1, 10, 100, 1000, 10000]))
ax.yaxis.set_major_formatter(FixedFormatter([r'$10^{0}$', r'$10^{1}$', r'$10^{2}$', r'$10^{3}$', r'$10^{4}$']))
ax.yaxis.set_minor_locator(LogLocator(base=10, subs=(2, 3, 4, 5, 6, 7, 8, 9), numticks=12))
ax.yaxis.set_minor_formatter(NullFormatter())
for name, col, m, y in zip(['COCO @ 490 nm', 'COCN @ 530 nm', 'CNCN @ 460 nm'], [c_blue, c_red, c_yellow], ['s', 'o', '^'], [0.932, 0.863, 0.795]):
    ax.plot([0.4656], [y], m, color=col, ms=4.5, mew=0, transform=ax.transAxes)
    ax.text(0.531, y, name, transform=ax.transAxes, fontsize=18.5, va='center')
labels(ax, 'Time (ms)', 1330, 486, 'Counts', 1055, 210)

# d
ax = add_panel(74, 526, 491, 941, 'd', 47, 551)
for vals, col in [(d_dcfh, c_green), (d_coco, c_blue), (d_cncn, c_yellow), (d_cocn, c_red)]:
    ax.plot(t_300, vals, '-o', color=col, lw=LINE_LW, ms=MS)
ax.set_xlim(-11.6, 309.9)
ax.set_ylim(0, 88.9)
ax.xaxis.set_major_locator(MultipleLocator(60))
ax.xaxis.set_minor_locator(MultipleLocator(30))
ax.yaxis.set_major_locator(MultipleLocator(15))
legend(ax, ['DCFH + COCN', 'DCFH + CNCN', 'DCFH + COCO', 'DCFH'], [c_red, c_yellow, c_blue, c_green], ['o'] * 4,
       0.032, 0.079, 0.115, [0.949, 0.885, 0.819, 0.755])
labels(ax, 'Irradiation time (s)', 283, 1009, r'I/I$_{0}$ @ 525 nm', 15, 733)

# e
ax = add_panel(596, 526, 1013, 941, 'e', 568, 553)
e_series = [(e_dhr, c_green), (e_coco_vc, c_dblue), (e_coco, c_blue), (e_cncn_vc, c_salmon), (e_cocn_vc, c_brown), (e_cncn, c_yellow), (e_cocn, c_red)]
for vals, col in e_series:
    ax.plot(t_300, vals, '-o', color=col, lw=LINE_LW, ms=MS)
ax.plot([307.4, 324, 324, 307.4], [117, 117, 29.8, 29.8], '--', color='#111111', lw=1.6, dashes=(4, 1.5))
ax.plot([307.4, 319.3, 319.3, 307.4], [66.2, 66.2, 27.8, 27.8], '--', color='#111111', lw=1.6, dashes=(4, 1.5))
ax.set_xlim(-10, 329)
ax.set_ylim(0, 199)
ax.xaxis.set_major_locator(MultipleLocator(60))
ax.xaxis.set_minor_locator(MultipleLocator(30))
ax.yaxis.set_major_locator(MultipleLocator(40))
legend(ax, ['DHR123 + COCN', 'DHR123 + COCN + Vc', 'DHR123 + CNCN', 'DHR123 + CNCN + Vc', 'DHR123 + COCO', 'DHR123 + COCO + Vc', 'DHR123'],
       [c_red, c_brown, c_yellow, c_salmon, c_blue, c_dblue, c_green], ['o'] * 7, 0.031, 0.08, 0.1165,
       [0.964, 0.9, 0.836, 0.771, 0.707, 0.643, 0.579])
labels(ax, 'Irradiation time (s)', 805, 1009, r'I/I$_{0}$ @ 526 nm', 521, 735)

# f
ax = add_panel(1122, 519, 1538, 933, 'f', 1095, 550)
for vals, col in [(f_hpf, c_green), (f_coco, c_blue), (f_cncn, c_yellow), (f_cocn, c_red)]:
    ax.plot(t_600, vals, '-o', color=col, lw=LINE_LW, ms=MS)
ax.set_xlim(-20, 620)
ax.set_ylim(0, 11.86)
ax.xaxis.set_major_locator(MultipleLocator(120))
ax.xaxis.set_minor_locator(MultipleLocator(60))
ax.yaxis.set_major_locator(MultipleLocator(2))
legend(ax, ['HPF + COCN', 'HPF + CNCN', 'HPF + COCO', 'HPF'], [c_red, c_yellow, c_blue, c_green], ['o'] * 4,
       0.031, 0.08, 0.11, [0.949, 0.884, 0.819, 0.756])
labels(ax, 'Irradiation time (s)', 1330, 1002, r'I/I$_{0}$ @ 515 nm', 1061, 725)

# g
ax = add_panel(74, 1049, 490, 1465, 'g', 47, 1075)
g_traces = [(g_first_x, g_first_y), (g_x, g_cocn_y), (g_x, g_coco_y), (g_x, g_cncn_y), (g_x, g_cocn2_y), (g_x, g_coco2_y)]
for (x, y), b, col, name, ly in zip(g_traces, g_base, c_epr, g_names, g_label_y):
    ax.plot(x, np.array(y) + b, color=col, lw=EPR_LW)
    ax.text(3598, ly, name, fontsize=13.3, ha='right', va='center')
epr_axis(ax, 128)
labels(ax, 'Magnetic Field (G)', 281, 1534, 'EPR amplitude', 50, 1258)

# h
ax = add_panel(596, 1049, 1012, 1465, 'h', 568, 1074)
h_traces = [(epr_field(h_a_left, h_a_mid, h_a_right), h_a_left + h_a_mid + h_a_right),
            (epr_field(h_b_left, h_b_mid, h_b_right), h_b_left + h_b_mid + h_b_right),
            (epr_field(h_c_left, h_c_mid, h_c_right), h_c_left + h_c_mid + h_c_right),
            (np.linspace(3400, 3600, len(h_d)), h_d), (np.linspace(3400, 3600, len(h_e)), h_e), (np.linspace(3400, 3600, len(h_f)), h_f)]
for (x, y), col, name, ly in zip(h_traces, c_epr, h_names, h_label_y):
    ax.plot(x, y, color=col, lw=EPR_LW)
    ax.text(3597.6, ly, name, fontsize=13.3, ha='right', va='center')
epr_axis(ax, 141)
labels(ax, 'Magnetic Field (G)', 805, 1534, 'EPR amplitude', 572, 1258)

# i
ax = add_panel(1122, 1049, 1538, 1465, 'i', 1096, 1074)
i_traces = [(epr_field(i_a_left, i_a_mid, i_a_right), i_a_left + i_a_mid + i_a_right),
            (epr_field(i_b_left, i_b_mid, i_b_right), i_b_left + i_b_mid + i_b_right),
            (epr_field(i_c_left, i_c_mid, i_c_right), i_c_left + i_c_mid + i_c_right),
            (np.linspace(3400, 3600, len(i_d)), i_d), (np.linspace(3400, 3600, len(i_e)), i_e), (np.linspace(3400, 3600, len(i_f)), i_f)]
for (x, y), col, name, ly in zip(i_traces, c_epr, h_names, i_label_y):
    ax.plot(x, y, color=col, lw=EPR_LW)
    ax.text(3597.5, ly, name, fontsize=13.3, ha='right', va='center')
epr_axis(ax, 141)
labels(ax, 'Magnetic Field (G)', 1330, 1534, 'EPR amplitude', 1099, 1258)

fig.savefig('out.png', dpi=100)
